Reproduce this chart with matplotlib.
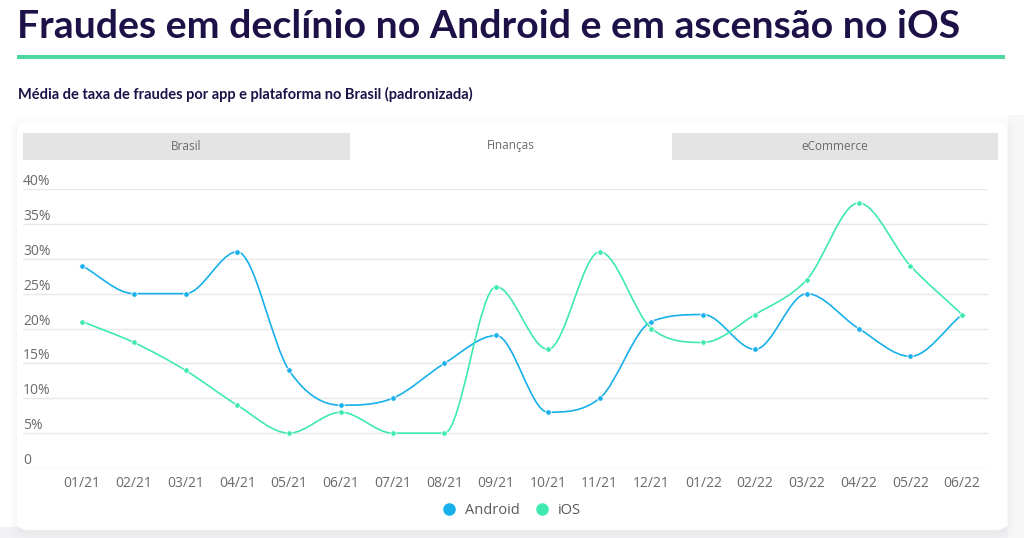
import matplotlib
matplotlib.use("Agg")
import matplotlib.pyplot as plt
from matplotlib.patches import FancyBboxPatch, Rectangle, PathPatch
from matplotlib.path import Path
from matplotlib.lines import Line2D
import numpy as np

months = ["01/21", "02/21", "03/21", "04/21", "05/21", "06/21", "07/21", "08/21", "09/21",
          "10/21", "11/21", "12/21", "01/22", "02/22", "03/22", "04/22", "05/22", "06/22"]
android = [29, 25, 25, 31, 14, 9, 10, 15, 19, 8, 10, 21, 22, 17, 25, 20, 16, 22]
ios = [21, 18, 14, 9, 5, 8, 5, 5, 26, 17, 31, 20, 18, 22, 27, 38, 29, 22]
tabs = ["Brasil", "Finanças", "eCommerce"]
yticks = [0, 5, 10, 15, 20, 25, 30, 35, 40]

W, H = 1024, 538
C_AND = "#17b0ea"
C_IOS = "#3eeaae"
NAVY = "#1d1147"
FONT = "Open Sans"


def fx(px):
    return px / W


def fy(py):
    return 1 - py / H


def monotone_path(x, y):
    # Fritsch-Carlson tangents, then cubic bezier segments
    x = np.asarray(x, float)
    y = np.asarray(y, float)
    n = len(x)
    d = np.diff(y) / np.diff(x)
    m = np.zeros(n)
    m[0], m[-1] = d[0], d[-1]
    for i in range(1, n - 1):
        if d[i - 1] * d[i] <= 0:
            m[i] = 0
        else:
            m[i] = (d[i - 1] + d[i]) / 2
    for i in range(n - 1):
        if d[i] == 0:
            m[i] = m[i + 1] = 0
            continue
        a, b = m[i] / d[i], m[i + 1] / d[i]
        s = a * a + b * b
        if s > 9:
            t = 3 / np.sqrt(s)
            m[i] = t * a * d[i]
            m[i + 1] = t * b * d[i]
    verts = [(x[0], y[0])]
    codes = [Path.MOVETO]
    for i in range(n - 1):
        h = x[i + 1] - x[i]
        verts += [(x[i] + h / 3, y[i] + m[i] * h / 3),
                  (x[i + 1] - h / 3, y[i + 1] - m[i + 1] * h / 3),
                  (x[i + 1], y[i + 1])]
        codes += [Path.CURVE4] * 3
    return Path(verts, codes)


fig = plt.figure(figsize=(W / 100, H / 100), dpi=100)
fig.patch.set_facecolor("white")

# title, rule and subtitle
fig.text(fx(17), fy(27), "Fraudes em declínio no Android e em ascensão no iOS",
         fontsize=28.3, fontweight="bold", color=NAVY, family="Lato", va="center", ha="left")
fig.add_artist(Rectangle((fx(17), fy(59)), fx(988), 4 / H, transform=fig.transFigure,
                         color="#4fd89d", lw=0))
fig.text(fx(18), fy(94), "Média de taxa de fraudes por app e plataforma no Brasil (padronizada)",
         fontsize=10.5, fontweight="bold", color=NAVY, family="Lato", va="center", ha="left")

# card with a soft shadow
bg = fig.add_axes([0, 0, 1, 1])
bg.set_xlim(0, W)
bg.set_ylim(H, 0)
bg.axis("off")
bg.add_patch(Rectangle((0, 527), W, 11, fc="#f2f2f4", ec="none"))
bg.add_patch(Rectangle((1008, 115), 16, 423, fc="#f7f7f8", ec="none"))
for k in range(8, 0, -1):
    bg.add_patch(FancyBboxPatch((17 - k, 123 - k + 2), 990 + 2 * k, 407 + 2 * k,
                                boxstyle="round,pad=0,rounding_size=12", fc="black",
                                ec="none", alpha=0.005))
bg.add_patch(FancyBboxPatch((17, 123), 990, 407, boxstyle="round,pad=0,rounding_size=10",
                            fc="white", ec="none"))

# tabs
tab_x = [23, 350, 672, 998]
for i, name in enumerate(tabs):
    fc = "white" if name == "Finanças" else "#e4e4e4"
    bg.add_patch(Rectangle((tab_x[i], 133), tab_x[i + 1] - tab_x[i], 27, fc=fc, ec="none"))
    bg.text((tab_x[i] + tab_x[i + 1]) / 2, 146, name, ha="center", va="center",
            fontsize=8.5, color="#6a6a6a", family=FONT)

# chart axes: 0 at y=468 px, 40% at y=189 px
ax = fig.add_axes([fx(23), fy(468), fx(988 - 23), (468 - 189) / H])
ax.set_facecolor("none")
xs = np.arange(len(months))
ax.set_xlim(-1.14, 17.5)
ax.set_ylim(0, 40)
for v in yticks:
    ax.axhline(v, color="#e8e8e8", lw=1, zorder=0)
    lab = "0" if v == 0 else f"{v}%"
    ax.text(0, v, lab, transform=ax.get_yaxis_transform(), ha="left", va="bottom",
            fontsize=10, color="#6a6a6a", family=FONT)
for s in ax.spines.values():
    s.set_visible(False)
ax.set_yticks([])
ax.set_xticks(xs)
ax.set_xticklabels(months, fontsize=10, color="#6a6a6a", family=FONT)
ax.tick_params(axis="x", length=0, pad=6)

for vals, col in [(android, C_AND), (ios, C_IOS)]:
    ax.add_patch(PathPatch(monotone_path(xs, vals), fc="none", ec=col, lw=1.2, clip_on=False))
    ax.plot(xs, vals, "o", color=col, ms=4, mec="white", mew=0.6, clip_on=False, zorder=3)

handles = [Line2D([], [], marker="o", ls="none", color=C_AND, ms=8),
           Line2D([], [], marker="o", ls="none", color=C_IOS, ms=8)]
leg = fig.legend(handles, ["Android", "iOS"], loc="center", bbox_to_anchor=(fx(508), fy(511)),
                 ncol=2, frameon=False, handletextpad=0.1, columnspacing=0.5,
                 prop={"family": FONT, "size": 10.5})
for t in leg.get_texts():
    t.set_color("#5a5a5a")

fig.savefig("out.png", dpi=100, facecolor="white")
